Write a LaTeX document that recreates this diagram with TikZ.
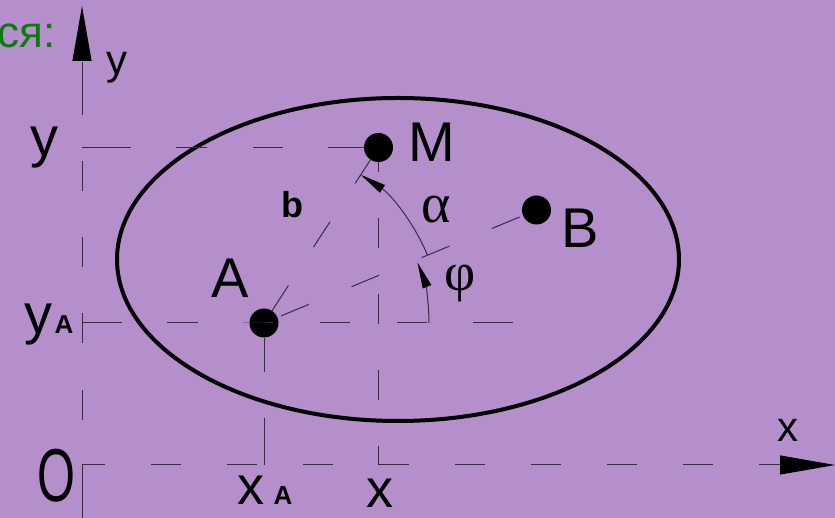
\documentclass[tikz,border=0pt]{standalone}
\usepackage{fontspec}
\usepackage{graphicx}
\setmainfont{Liberation Sans}
\newfontfamily\greekfont{Liberation Serif}
\usetikzlibrary{arrows.meta}
\definecolor{SheetPurple}{HTML}{B48FCB}
\definecolor{TitleGreen}{HTML}{0B7B0B}
\definecolor{GuideInk}{HTML}{3A2A46}

\begin{document}
\begin{tikzpicture}[x=1pt,y=1pt,
    guide/.style={GuideInk,line width=1pt,dash pattern=on 30pt off 46pt},
    axisline/.style={guide,-{Triangle[length=55pt,width=19pt,color=black]}},
    anglearc/.style={GuideInk,line width=1pt,-{Triangle[length=26pt,width=9pt,color=black]}},
    dotpt/.style={circle,fill=black,inner sep=0pt,minimum size=29pt},
    lbl/.style={inner sep=0pt,anchor=base,font=\fontsize{56}{60}\selectfont},
    idx/.style={inner sep=0pt,anchor=base,font=\bfseries\fontsize{26}{30}\selectfont},
    axlbl/.style={inner sep=0pt,anchor=base,font=\fontsize{42}{46}\selectfont}]
    \useasboundingbox (0,0) rectangle (835,518);
    \clip (0,0) rectangle (835,518);
    \fill[SheetPurple] (0,0) rectangle (835,518);
    \coordinate (orig) at (82,53);
    \coordinate (ybot) at (82,0);
    \coordinate (ytip) at (82,512);
    \coordinate (xtip) at (835,53);
    \coordinate (yAend) at (513,195);
    \node[dotpt] (ptA) at (264,195) {};
    \node[dotpt] (ptM) at (378.5,370.5) {};
    \node[dotpt] (ptB) at (536.5,308) {};
    \draw[line width=4pt] (398,258.5) ellipse [x radius=281,y radius=161.5];
    \draw[axisline,dash pattern=on 53pt off 45pt on 30pt off 47pt on 30pt off 46pt on 30pt off 46pt on 30pt off 46pt on 53pt off 100pt] (ybot) -- (ytip);
    \draw[axisline,dash phase=7pt] (orig) -- (xtip);
    \draw[guide,dash pattern=on 49pt off 45pt on 31pt off 46pt on 30pt off 45pt on 40pt off 10pt] (ptM -| orig) -- (ptM);
    \draw[guide,dash pattern=on 40pt off 45pt on 31pt off 45pt on 30pt off 47pt on 30pt off 47pt on 30pt off 46pt on 40pt off 10pt] (ptA -| orig) -- (ptA.center) -- (yAend);
    \draw[guide,dash pattern=on 47pt off 46pt] (ptA |- orig) -- (ptA);
    \draw[guide,dash phase=20.5pt] (ptM) -- (ptM |- orig);
    \draw[guide] (ptA) -- (ptM);
    \draw[guide,dash phase=72pt] (ptA) -- (ptB);
    \draw[anglearc] ([shift={(22.5:177)}]ptA.center) arc[start angle=22.5,end angle=56.9,radius=177];
    \draw[anglearc] ([shift={(0:165)}]ptA.center) arc[start angle=0,end angle=21.5,radius=165];
    \node[lbl,anchor=base east,font=\fontsize{44}{48}\selectfont,TitleGreen] (title) at (56,470) {ся:};
    \node[axlbl] (laby) at (117,443) {y};
    \node[lbl] (labyM) at (44,361) {y};
    \node[lbl] (labyA) at (38,184) {y};
    \node[idx] (labyAi) at (64,184) {A};
    \node[lbl,font=\fontsize{75}{80}\selectfont] (labO) at (56,16) {\scalebox{0.65}[1]{O}};
    \node[lbl,font=\fontsize{54}{58}\selectfont] (labxA) at (251,13) {x};
    \node[idx] (labxAi) at (283,13) {A};
    \node[lbl,font=\fontsize{54}{58}\selectfont] (labx) at (380,10) {x};
    \node[axlbl] (labxaxis) at (788,76) {x};
    \node[lbl,font=\bfseries\fontsize{36}{40}\selectfont] (labb) at (292,300) {b};
    \node[lbl,font=\greekfont\fontsize{56}{60}\selectfont] (labalpha) at (436,295) {α};
    \node[lbl,font=\greekfont\fontsize{54}{58}\selectfont] (labphi) at (460,227) {φ};
    \node[lbl] (labM) at (432,356) {M};
    \node[lbl] (labA) at (230.5,220) {A};
    \node[lbl] (labB) at (580.5,270) {B};
\end{tikzpicture}
\end{document}
